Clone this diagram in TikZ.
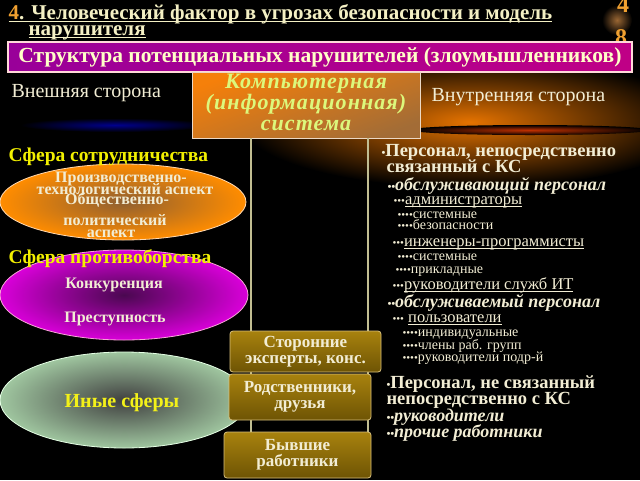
\documentclass[tikz,border=0pt]{standalone}
\usepackage{fontspec}
\setmainfont{Liberation Serif}
\definecolor{cream}{HTML}{F2EDD4}
\definecolor{ttlcol}{HTML}{F4F0C4}
\definecolor{numcol}{HTML}{F0A030}
\definecolor{sphyel}{HTML}{F2F000}
\definecolor{compcol}{HTML}{DCF87C}
\definecolor{bantext}{HTML}{FFFFC8}
\definecolor{purin}{HTML}{4A0850}
\newcommand\bl{{\fontsize{11}{11}\selectfont\textbullet}}
\newcommand\undl[1]{{\setbox0=\hbox{#1}\rlap{\rule[-2.5pt]{\wd0}{0.9pt}}\box0}}
\tikzset{
  ttl/.style={anchor=base west,text=ttlcol,font=\bfseries\fontsize{21}{21}\selectfont},
  side/.style={anchor=base west,text=cream,font=\fontsize{20}{20}\selectfont},
  sphere/.style={anchor=base west,text=sphyel,font=\bfseries\fontsize{19.5}{19.5}\selectfont},
  asp/.style={anchor=base,text=cream,font=\bfseries\fontsize{16}{16}\selectfont},
  goldbox/.style={draw=goldedge,line width=0.8pt,rounded corners=3pt,top color=gold1,middle color=gold2,bottom color=gold3,
    text=cream,align=center,font=\bfseries\fontsize{17}{16}\selectfont,inner sep=0pt},
  lvla/.style={anchor=base west,text=cream,font=\bfseries\fontsize{18.5}{18.5}\selectfont},
  lvlb/.style={anchor=base west,text=cream,font=\bfseries\itshape\fontsize{18}{18}\selectfont},
  lvlc/.style={anchor=base west,text=cream,font=\fontsize{16.5}{16.5}\selectfont},
  lvld/.style={anchor=base west,text=cream,font=\fontsize{14}{14}\selectfont},
}
\definecolor{goldedge}{HTML}{D8C07C}
\definecolor{gold1}{HTML}{A8820E}
\definecolor{gold2}{HTML}{C49C24}
\definecolor{gold3}{HTML}{6E5404}
\begin{document}
\begin{tikzpicture}[x=1pt,y=-1pt]
\useasboundingbox (0,0) rectangle (640,480);
\fill[black] (0,0) rectangle (640,480);
% glows behind
\shade[inner color=blue!55!black,outer color=black] (115,125) ellipse (95 and 7);
\shade[inner color=orange!90!black,outer color=black] (470,122) ellipse (230 and 66);
\shade[inner color=red!50!orange!75!black,outer color=black] (530,130) ellipse (120 and 5);
\shade[inner color=brown!80!black,outer color=black] (617,20) circle (15);
% title
\node[ttl] (title1) at (5,19) {\undl{\textcolor{numcol}{4}. Человеческий фактор в угрозах безопасности и модель}};
\node[ttl] (title2) at (25,35) {\undl{нарушителя}};
\node[anchor=base,text=numcol,font=\bfseries\fontsize{24}{24}\selectfont] (num4) at (623,12) {4};
\node[anchor=base,text=numcol,font=\bfseries\fontsize{24}{24}\selectfont] (num8) at (621,45) {8};
% banner
\node[draw=pink!60!white,line width=1.2pt,left color=magenta!60!black,right color=magenta!70!red!75!black,
  minimum width=624pt,minimum height=30pt,inner sep=0pt,text=bantext,font=\bfseries\fontsize{21.5}{21.5}\selectfont]
  (banner) at (320,57) {Структура потенциальных нарушителей (злоумышленников)};
% sides
\node[side] (outer) at (8,97) {Внешняя сторона};
\node[side] (inner) at (428,101) {Внутренняя сторона};
% computer system
\node[draw=brown!30!white,line width=0.8pt,top color=orange!85!brown,bottom color=brown!85!black,shading angle=20,
  minimum width=228pt,minimum height=66pt,inner sep=0pt] (ks) at (306,105) {};
\foreach \yy/\txt in {88/Компьютерная,109/(информационная),130/система}
  \node[anchor=base,text=compcol,font=\bfseries\itshape\fontsize{22}{22}\selectfont\addfontfeature{LetterSpace=5}] at (306,\yy) {\txt};
% vertical lines
\draw[line width=1.5pt,gray!70!yellow!80!white] (ks.south-|251,0) -- (251,478);
\draw[line width=1.5pt,gray!70!yellow!80!white] (ks.south-|368,0) -- (368,478);
% spheres
\shade[inner color=brown!75!black,outer color=orange!90!yellow] (123,202) ellipse (123 and 38);
\draw[line width=0.8pt,orange!30!white] (123,202) ellipse (123 and 38);
\shade[inner color=purin,outer color=magenta!85!black] (124,295) ellipse (124 and 45);
\draw[line width=0.8pt,magenta!35!white] (124,295) ellipse (124 and 45);
\shade[inner color=black!75,outer color=green!25!gray!60!white] (124,400) ellipse (124 and 48);
\draw[line width=0.8pt,green!10!white] (124,400) ellipse (124 and 48);
\node[sphere] (coop) at (5,161) {Сфера сотрудничества};
\node[asp] (prod1) at (121,182) {Производственно-};
\node[asp] (prod2) at (125,194) {технологический аспект};
\node[asp] (soc1) at (117,204) {Общественно-};
\node[asp] (soc2) at (115,225) {политический};
\node[asp] (soc3) at (111,237) {аспект};
\node[sphere] (conf) at (5,263) {Сфера противоборства};
\node[asp] (comp) at (114,288) {Конкуренция};
\node[asp] (crim) at (115,322) {Преступность};
\node[anchor=base,text=sphyel!90!white,font=\bfseries\fontsize{20}{20}\selectfont] (other) at (122,407) {Иные сферы};
% outside people
\node[goldbox,minimum width=151pt,minimum height=41pt] (exp) at (305.5,351.5) {Сторонние\\эксперты, конс.};
\node[goldbox,minimum width=142pt,minimum height=46pt] (rel) at (300,397) {Родственники,\\друзья};
\node[goldbox,minimum width=147pt,minimum height=46pt] (ex) at (297.5,455) {Бывшие\\работники};
% inside personnel
\node[lvla] (p1) at (378,156) {\bl Персонал, непосредственно};
\node[lvla] (p1b) at (383,172) {связанный с КС};
\node[lvlb] (p11) at (384,190) {\bl\bl обслуживающий персонал};
\node[lvlc] (p111) at (390,204) {\bl\bl\bl\undl{администраторы}};
\node[lvld] (p1111) at (394,218) {\bl\bl\bl\bl системные};
\node[lvld] (p1112) at (394,229) {\bl\bl\bl\bl безопасности};
\node[lvlc] (p112) at (389,246) {\bl\bl\bl\undl{инженеры-программисты}};
\node[lvld] (p1121) at (394,260) {\bl\bl\bl\bl системные};
\node[lvld] (p1122) at (392,273) {\bl\bl\bl\bl прикладные};
\node[lvlc] (p113) at (389,289) {\bl\bl\bl\undl{руководители служб ИТ}};
\node[lvlb] (p12) at (384,307) {\bl\bl обслуживаемый персонал};
\node[lvlc] (p121) at (389,322) {\bl\bl\bl\ \undl{пользователи}};
\node[lvld] (p1211) at (399,336) {\bl\bl\bl\bl индивидуальные};
\node[lvld] (p1212) at (399,349) {\bl\bl\bl\bl члены раб. групп};
\node[lvld] (p1213) at (399,361) {\bl\bl\bl\bl руководители подр-й};
\node[lvla] (p2) at (383,388) {\bl Персонал, не связанный};
\node[lvla] (p2b) at (383,404) {непосредственно с КС};
\node[lvlb] (p21) at (383,421) {\bl\bl руководители};
\node[lvlb] (p22) at (383,437) {\bl\bl прочие работники};
\end{tikzpicture}
\end{document}
